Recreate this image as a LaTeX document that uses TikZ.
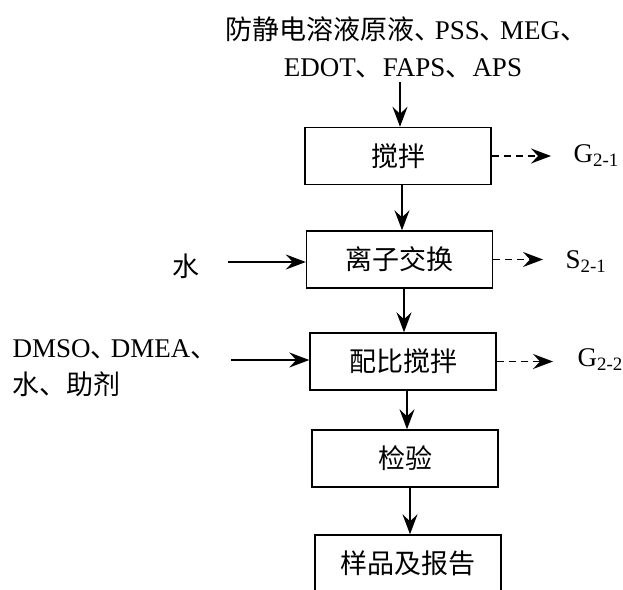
\documentclass[tikz,border=0pt]{standalone}
\usepackage{fontspec}
\setmainfont{Liberation Serif}
\newfontfamily\cjk{Noto Sans CJK SC}
\usepackage{tikz}
\usetikzlibrary{arrows.meta,calc}
\newcommand{\dunn}{\makebox[0.75em][l]{\cjk 、}}
\newcommand{\dunw}{{\cjk 、}}

\begin{document}
\begin{tikzpicture}[x=1pt, y=-1pt, >={Stealth[length=20pt,width=15pt,inset=7pt]}, line width=1.4pt, font=\fontsize{27}{37}\selectfont]
	\tikzstyle{proc}=[draw=black, minimum width=186pt, minimum height=57pt, inner sep=0pt, font=\fontsize{27}{37}\selectfont\cjk]
	\tikzstyle{flow}=[->]
	\tikzstyle{waste}=[->, dash pattern=on 7pt off 5pt]
	\tikzstyle{outlbl}=[anchor=west, inner sep=0pt]
	\useasboundingbox (0,0) rectangle (623,589);
	\node[proc]    (B1) at (398,156)   {搅拌};
	\node[proc]    (B2) at (399.5,259.5) {离子交换};
	\node[proc]    (B3) at (403,361.5) {配比搅拌};
	\node[proc]    (B4) at (405,458.5) {检验};
	\node[proc]    (B5) at (408,563.5) {样品及报告};
	% inputs
	\node[align=center, inner sep=4pt] (feed) at (403,47) {{\cjk 防静电溶液原液}\dunn PSS\dunn MEG\dunn\\EDOT\dunw FAPS\dunw APS};
	\node[inner sep=3pt] (water) at (186,266) {\cjk 水};
	\node[align=left, anchor=west, inner sep=0pt] (dm) at (12,368) {DMSO\dunn DMEA\dunn\\{\cjk 水}\dunw{\cjk 助剂}};
	% outputs
	\node[outlbl]  (g1) at (573,156) {G\textsubscript{2-1}};
	\node[outlbl]  (s1) at (565,262) {S\textsubscript{2-1}};
	\node[outlbl]  (g2) at (577,360) {G\textsubscript{2-2}};
	\draw[flow] ([xshift=-3pt]feed.south) coordinate (a0) -- (a0 |- B1.north);
	\draw[flow] ([xshift=4pt]B1.south) coordinate (a1) -- (a1 |- B2.north);
	\draw[flow] ([xshift=4.5pt]B2.south) coordinate (a2) -- (a2 |- B3.north);
	\draw[flow] ([xshift=4pt]B3.south) coordinate (a3) -- (a3 |- B4.north);
	\draw[flow] ([xshift=5pt]B4.south) coordinate (a4) -- (a4 |- B5.north);
	\draw[flow] ([xshift=25pt,yshift=4pt]water.east) coordinate (w0) -- (w0 -| B2.west);
	\draw[flow] ([xshift=20pt,yshift=8pt]dm.east) coordinate (d0) -- (d0 -| B3.west);
	\draw[waste] (B1.east) -- ([xshift=-22pt]g1.west |- B1.east);
	\draw[waste] (B2.east) -- ([xshift=-22pt]s1.west |- B2.east);
	\draw[waste] (B3.east) -- ([xshift=-24pt]g2.west |- B3.east);
\end{tikzpicture}
\end{document}
